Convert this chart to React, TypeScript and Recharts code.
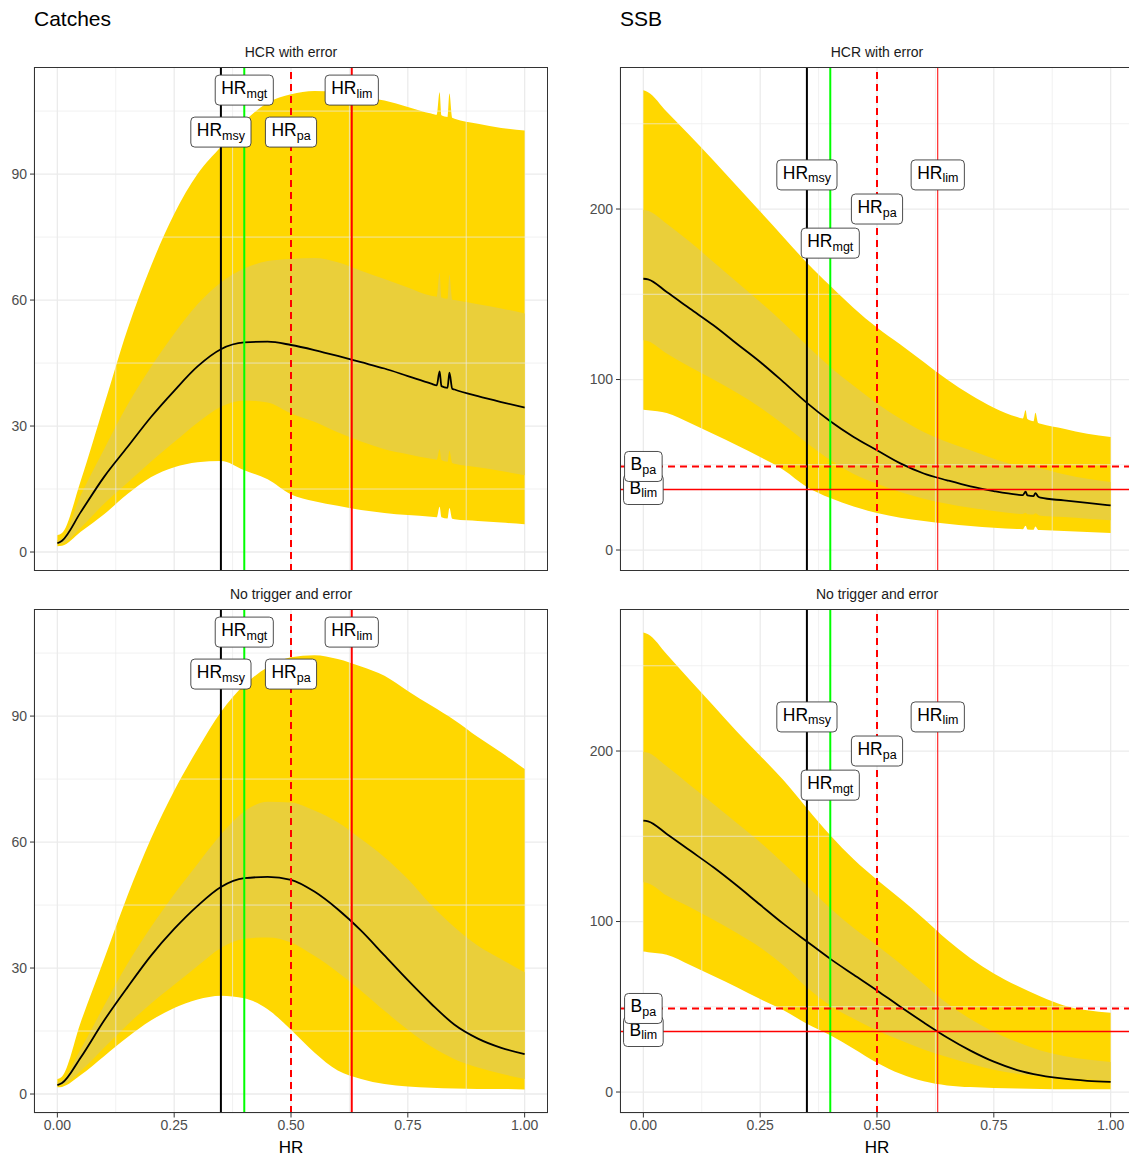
import {
  ComposedChart,
  Area,
  Line,
  XAxis,
  YAxis,
  CartesianGrid,
  ReferenceLine,
  ReferenceDot,
} from "recharts";

// harvest rate grid (top panels carry the small glitch near 0.82 / 0.84)
const HR = [0, 0.01, 0.05, 0.1, 0.15, 0.2, 0.25, 0.3, 0.35, 0.4, 0.45, 0.5, 0.55, 0.6, 0.65, 0.7, 0.75, 0.8, 0.85, 0.9, 0.95, 1.0];
const HR_SPIKE = [0, 0.01, 0.05, 0.1, 0.15, 0.2, 0.25, 0.3, 0.35, 0.4, 0.45, 0.5, 0.55, 0.6, 0.65, 0.7, 0.75, 0.8, 0.812, 0.818, 0.822, 0.835, 0.839, 0.845, 0.85, 0.9, 0.95, 1.0];

// Catches, HCR with error
const CATCH_HCR_P05 = [1.4, 1.5, 4.8, 9.0, 13.8, 17.8, 20.2, 21.4, 21.7, 19.5, 17.3, 13.7, 12.1, 11.0, 10.0, 9.3, 8.8, 8.4, 8.3, 10.8, 8.3, 8.0, 10.5, 7.9, 7.8, 7.4, 7.0, 6.6];
const CATCH_HCR_P25 = [1.8, 2.0, 5.8, 11.5, 16.5, 21.5, 26.2, 30.8, 34.6, 36.1, 35.6, 33.0, 31.0, 28.5, 26.3, 24.5, 23.3, 22.2, 22.0, 24.5, 21.9, 21.5, 24.1, 21.2, 21.0, 20.2, 19.3, 18.3];
const CATCH_HCR_P50 = [2.1, 2.7, 9.5, 17.9, 25.0, 32.1, 38.4, 44.2, 48.3, 49.9, 50.1, 49.3, 48.1, 46.7, 45.2, 43.7, 41.9, 40.1, 39.7, 43.0, 39.5, 39.1, 42.7, 38.9, 38.7, 37.1, 35.7, 34.4];
const CATCH_HCR_P75 = [2.8, 3.2, 13.5, 24.5, 35.0, 44.0, 52.0, 59.0, 64.2, 67.5, 69.3, 69.8, 70.0, 69.0, 67.0, 65.0, 63.0, 61.0, 60.8, 66.5, 60.6, 60.3, 66.0, 60.1, 60.0, 59.0, 58.0, 56.8];
const CATCH_HCR_P95 = [4.0, 4.5, 17.0, 35.0, 53.0, 68.0, 80.5, 90.0, 96.5, 102.5, 107.0, 109.0, 109.8, 109.5, 108.5, 107.5, 106.0, 104.4, 104.1, 109.5, 104.0, 103.6, 109.2, 103.4, 103.2, 102.0, 101.0, 100.4];

// Catches, no trigger and error
const CATCH_NT_P05 = [1.6, 1.7, 4.5, 9.0, 13.5, 17.5, 20.5, 22.5, 23.4, 22.8, 20.2, 15.3, 9.9, 5.6, 3.6, 2.4, 1.8, 1.5, 1.3, 1.2, 1.2, 1.1];
const CATCH_NT_P25 = [2.0, 2.2, 5.5, 11.0, 16.5, 21.5, 26.0, 30.5, 34.8, 37.0, 37.3, 36.1, 32.9, 29.0, 24.6, 19.8, 15.3, 11.3, 8.3, 6.3, 4.8, 3.6];
const CATCH_NT_P50 = [2.1, 2.6, 8.7, 17.5, 25.4, 32.9, 39.3, 44.8, 49.3, 51.4, 51.7, 51.0, 48.2, 44.0, 38.9, 33.0, 27.1, 21.5, 16.5, 13.2, 11.0, 9.5];
const CATCH_NT_P75 = [2.8, 3.2, 10.7, 21.0, 31.0, 39.7, 47.6, 54.8, 61.8, 67.3, 69.6, 69.4, 67.5, 64.7, 60.7, 56.4, 51.2, 45.0, 39.7, 35.3, 32.1, 29.0];
const CATCH_NT_P95 = [3.6, 4.2, 17.1, 32.1, 47.2, 60.7, 72.2, 82.1, 91.0, 97.4, 101.6, 104.0, 104.5, 103.6, 101.8, 99.6, 96.0, 92.5, 89.0, 85.0, 81.3, 77.4];

// SSB, HCR with error
const SSB_HCR_P05 = [82.3, 82.0, 80.4, 74.5, 68.0, 61.5, 54.5, 47.0, 37.0, 30.5, 25.6, 21.7, 19.0, 17.0, 15.4, 14.1, 13.1, 12.3, 12.2, 14.2, 12.1, 11.9, 13.8, 11.8, 11.7, 11.1, 10.6, 10.0];
const SSB_HCR_P25 = [123.0, 122.5, 115.2, 107.3, 100.0, 92.2, 83.6, 73.6, 62.8, 52.8, 44.6, 38.9, 34.0, 30.1, 27.2, 24.8, 22.9, 21.3, 21.1, 21.8, 21.0, 20.8, 21.5, 20.6, 20.1, 19.4, 18.4, 17.4];
const SSB_HCR_P50 = [159.1, 158.8, 151.3, 141.5, 131.8, 121.0, 110.3, 98.5, 86.3, 75.5, 66.3, 58.5, 50.8, 44.9, 40.9, 37.3, 34.6, 32.5, 32.2, 34.2, 32.0, 31.6, 33.4, 31.3, 30.7, 29.1, 27.6, 26.2];
const SSB_HCR_P75 = [199.6, 199.0, 191.4, 180.6, 168.9, 157.2, 145.5, 133.2, 120.0, 107.4, 96.3, 86.0, 77.0, 69.2, 63.3, 58.5, 53.6, 49.7, 49.3, 50.5, 49.1, 48.6, 49.8, 48.3, 48.0, 44.4, 41.8, 39.9];
const SSB_HCR_P95 = [269.6, 268.5, 257.0, 243.0, 228.5, 213.5, 198.5, 183.5, 168.5, 155.0, 142.0, 130.5, 120.5, 110.3, 100.0, 91.0, 83.5, 78.0, 77.1, 82.0, 76.8, 75.6, 80.5, 74.5, 74.1, 71.2, 68.2, 66.3];

// SSB, no trigger and error
const SSB_NT_P05 = [82.4, 82.0, 80.5, 74.5, 68.0, 61.5, 54.5, 48.0, 40.0, 33.3, 25.4, 17.2, 10.7, 6.3, 3.9, 2.9, 2.3, 2.0, 1.8, 1.6, 1.6, 1.6];
const SSB_NT_P25 = [123.0, 122.5, 115.2, 108.4, 101.0, 93.3, 84.8, 74.2, 61.3, 50.8, 43.0, 36.1, 30.3, 25.0, 20.5, 16.6, 13.1, 10.7, 9.2, 8.2, 7.4, 6.8];
const SSB_NT_P50 = [159.2, 158.8, 151.4, 141.6, 131.8, 121.1, 109.8, 98.6, 88.3, 78.1, 68.8, 59.6, 50.0, 40.8, 32.0, 24.3, 17.8, 12.9, 9.8, 7.8, 6.6, 5.9];
const SSB_NT_P75 = [199.6, 199.0, 191.0, 180.0, 169.0, 157.8, 146.5, 134.0, 121.0, 107.8, 96.2, 86.0, 75.2, 63.5, 52.0, 42.8, 35.2, 29.3, 24.4, 21.1, 19.1, 17.6];
const SSB_NT_P95 = [269.5, 268.5, 256.8, 241.5, 226.6, 211.5, 197.3, 182.8, 166.5, 150.6, 136.5, 124.5, 113.3, 101.6, 89.3, 78.5, 69.5, 62.3, 56.0, 50.8, 47.9, 46.5];

// reference points
const HR_REFS = ["msy", "mgt", "pa", "lim"];
const HR_REF_X = [0.35, 0.4, 0.5, 0.63];
const CATCH_LABEL_Y = [100, 110, 100, 110];
const SSB_LABEL_Y = [220, 180, 200, 220];
const B_REFS = ["lim", "pa"];
const B_REF_Y = [35.5, 49];

const X_TICKS = [0, 0.25, 0.5, 0.75, 1];
const X_MINOR = [0.125, 0.375, 0.625, 0.875];
const CATCH_TICKS = [0, 30, 60, 90];
const CATCH_MINOR = [15, 45, 75, 105];
const SSB_TICKS = [0, 100, 200];
const SSB_MINOR = [50, 150, 250];

const FONT = '"Liberation Sans", Arial, Helvetica, sans-serif';
const OUTER = "#FFD700";
const INNER = "#EACF3A";
const GRID = "#EBEBEB";
const RED = "#FF0000";

const CW: Record<string, number> = { H: 0.722, R: 0.722, B: 0.667, m: 0.833, g: 0.556, t: 0.278, s: 0.5, y: 0.5, p: 0.556, a: 0.556, l: 0.222, i: 0.222 };
const textW = (s: string, size: number) => s.split("").reduce((a, c) => a + (CW[c] ?? 0.556), 0) * size;

function buildRows(hr: number[], p05: number[], p25: number[], p50: number[], p75: number[], p95: number[]) {
  return hr.map((x, i) => ({ hr: x, outer: [p05[i], p95[i]], inner: [p25[i], p75[i]], median: p50[i] }));
}

function boxLabel(main: string, sub: string) {
  return (props: any) => {
    const { cx, cy } = props;
    const w = textW(main, 17.5) + textW(sub, 12.5) + 12;
    const h = 30;
    const x0 = cx - w / 2;
    return (
      <g>
        <rect x={x0} y={cy - h / 2} width={w} height={h} rx={4} ry={4} fill="#fff" stroke="#3a3a3a" strokeWidth={0.9} />
        <text x={x0 + 6} y={cy + 4} fontSize={17.5} fill="#000" fontFamily={FONT}>
          {main}
          <tspan fontSize={12.5} dy={3.5}>{sub}</tspan>
        </text>
      </g>
    );
  };
}

interface PanelProps {
  rows: any[];
  left: number;
  top: number;
  domain: [number, number];
  ticks: number[];
  minor: number[];
  labelY: number[];
  ssb: boolean;
  bottom: boolean;
}

function Panel({ rows, left, top, domain, ticks, minor, labelY, ssb, bottom }: PanelProps) {
  const plotH = 504;
  const xH = bottom ? 26 : 0;
  return (
    <div style={{ position: "absolute", left, top }}>
      <ComposedChart width={548} height={plotH + xH} data={rows} margin={{ top: 0, right: 0, bottom: 0, left: 0 }}>
        <XAxis
          dataKey="hr"
          type="number"
          domain={[-0.05, 1.05]}
          ticks={X_TICKS}
          allowDataOverflow
          hide={!bottom}
          height={xH}
          axisLine={false}
          tickSize={4.5}
          tickMargin={3}
          tickLine={{ stroke: "#333" }}
          tick={{ fill: "#4D4D4D", fontSize: 14, fontFamily: FONT }}
          tickFormatter={(v: number) => v.toFixed(2)}
        />
        <YAxis
          type="number"
          domain={domain}
          ticks={ticks}
          allowDataOverflow
          width={34}
          axisLine={false}
          tickSize={4}
          tickMargin={3}
          tickLine={{ stroke: "#333" }}
          tick={{ fill: "#4D4D4D", fontSize: 14, fontFamily: FONT }}
        />
        {X_MINOR.map((v) => (
          <ReferenceLine key={"xm" + v} x={v} stroke={GRID} strokeWidth={0.7} />
        ))}
        {minor.map((v) => (
          <ReferenceLine key={"ym" + v} y={v} stroke={GRID} strokeWidth={0.7} />
        ))}
        <CartesianGrid stroke={GRID} strokeWidth={1.3} />
        <Area dataKey="outer" type="monotone" fill={OUTER} fillOpacity={1} stroke="none" isAnimationActive={false} />
        <Area dataKey="inner" type="monotone" fill={INNER} fillOpacity={1} stroke="none" isAnimationActive={false} />
        <Line dataKey="median" type="monotone" stroke="#000" strokeWidth={1.8} dot={false} isAnimationActive={false} />
        <ReferenceLine key="msy" x={HR_REF_X[0]} stroke="#000" strokeWidth={2} />
        <ReferenceLine key="mgt" x={HR_REF_X[1]} stroke="#00FF00" strokeWidth={2} />
        <ReferenceLine key="pa" x={HR_REF_X[2]} stroke={RED} strokeWidth={2} strokeDasharray="7 5" />
        <ReferenceLine key="lim" x={HR_REF_X[3]} stroke={RED} strokeWidth={ssb ? 1 : 2} />
        {ssb && <ReferenceLine key="blim" y={B_REF_Y[0]} stroke={RED} strokeWidth={1.3} />}
        {ssb && <ReferenceLine key="bpa" y={B_REF_Y[1]} stroke={RED} strokeWidth={2} strokeDasharray="7 5" />}
        {HR_REFS.map((name, i) => (
          <ReferenceDot key={name} x={HR_REF_X[i]} y={labelY[i]} r={0} ifOverflow="visible" shape={boxLabel("HR", name)} />
        ))}
        {ssb &&
          B_REFS.map((name, i) => (
            <ReferenceDot key={"b" + name} x={0} y={B_REF_Y[i]} r={0} ifOverflow="visible" shape={boxLabel("B", name)} />
          ))}
      </ComposedChart>
      <div
        style={{
          position: "absolute",
          left: 34,
          top: 0,
          width: 514,
          height: plotH,
          border: "1px solid #333",
          boxSizing: "border-box",
          pointerEvents: "none",
        }}
      />
    </div>
  );
}

const txt = (size: number, color: string): React.CSSProperties => ({
  position: "absolute",
  fontSize: size,
  lineHeight: `${size}px`,
  color,
  fontFamily: FONT,
  whiteSpace: "nowrap",
});

export default function App() {
  const catchTop = buildRows(HR_SPIKE, CATCH_HCR_P05, CATCH_HCR_P25, CATCH_HCR_P50, CATCH_HCR_P75, CATCH_HCR_P95);
  const catchBot = buildRows(HR, CATCH_NT_P05, CATCH_NT_P25, CATCH_NT_P50, CATCH_NT_P75, CATCH_NT_P95);
  const ssbTop = buildRows(HR_SPIKE, SSB_HCR_P05, SSB_HCR_P25, SSB_HCR_P50, SSB_HCR_P75, SSB_HCR_P95);
  const ssbBot = buildRows(HR, SSB_NT_P05, SSB_NT_P25, SSB_NT_P50, SSB_NT_P75, SSB_NT_P95);
  const catchDomain: [number, number] = [-4.52, 115.5];
  const ssbDomain: [number, number] = [-12.3, 283.3];

  return (
    <div
      style={{
        position: "absolute",
        left: 0,
        top: 0,
        width: 1129,
        height: 1156,
        overflow: "hidden",
        background: "#fff",
        fontFamily: FONT,
      }}
    >
      <div style={{ ...txt(21, "#000"), left: 34, top: 8 }}>Catches</div>
      <div style={{ ...txt(21, "#000"), left: 620, top: 8 }}>SSB</div>

      <div style={{ ...txt(14, "#1A1A1A"), left: 34, width: 514, textAlign: "center", top: 45 }}>HCR with error</div>
      <div style={{ ...txt(14, "#1A1A1A"), left: 620, width: 514, textAlign: "center", top: 45 }}>HCR with error</div>
      <div style={{ ...txt(14, "#1A1A1A"), left: 34, width: 514, textAlign: "center", top: 587 }}>No trigger and error</div>
      <div style={{ ...txt(14, "#1A1A1A"), left: 620, width: 514, textAlign: "center", top: 587 }}>No trigger and error</div>

      <Panel rows={catchTop} left={0} top={67} domain={catchDomain} ticks={CATCH_TICKS} minor={CATCH_MINOR} labelY={CATCH_LABEL_Y} ssb={false} bottom={false} />
      <Panel rows={catchBot} left={0} top={609} domain={catchDomain} ticks={CATCH_TICKS} minor={CATCH_MINOR} labelY={CATCH_LABEL_Y} ssb={false} bottom />
      <Panel rows={ssbTop} left={586} top={67} domain={ssbDomain} ticks={SSB_TICKS} minor={SSB_MINOR} labelY={SSB_LABEL_Y} ssb bottom={false} />
      <Panel rows={ssbBot} left={586} top={609} domain={ssbDomain} ticks={SSB_TICKS} minor={SSB_MINOR} labelY={SSB_LABEL_Y} ssb bottom />

      <div style={{ ...txt(17, "#000"), left: 34, width: 514, textAlign: "center", top: 1139 }}>HR</div>
      <div style={{ ...txt(17, "#000"), left: 620, width: 514, textAlign: "center", top: 1139 }}>HR</div>
    </div>
  );
}
